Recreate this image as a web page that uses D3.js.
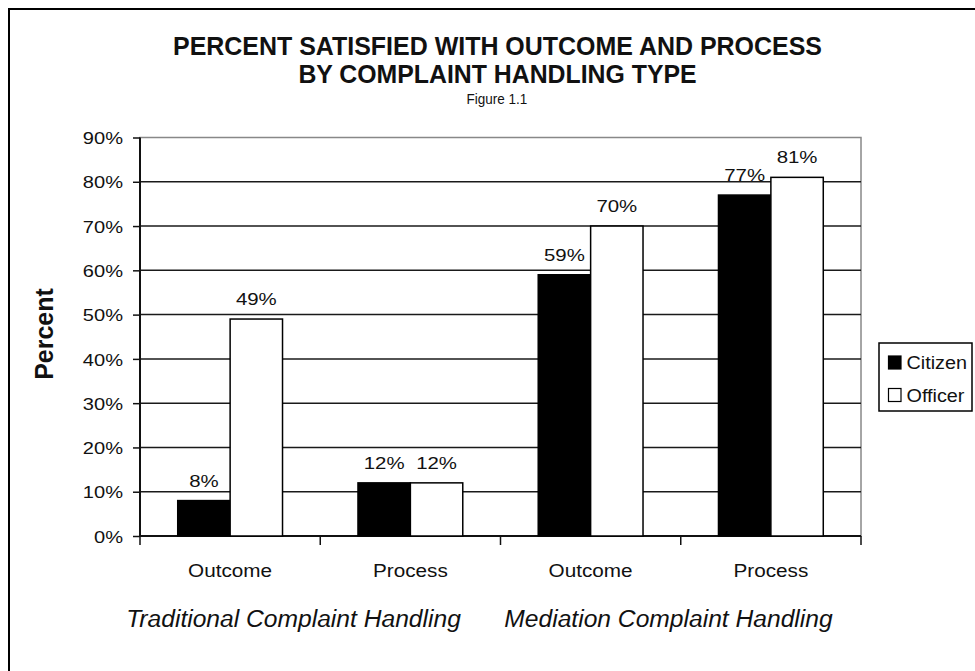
<!DOCTYPE html>
<html><head><meta charset="utf-8">
<script src="https://cdn.jsdelivr.net/npm/d3@7"></script>
<style>body{margin:0;background:#fff}svg{display:block}</style>
</head><body>
<script>
const categories = ["Outcome","Process","Outcome","Process"];
const seriesNames = ["Citizen","Officer"];
const citizen = [8,12,59,77];
const officer = [49,12,70,81];
const yTicks = [0,10,20,30,40,50,60,70,80,90];
const groupLabels = ["Traditional Complaint Handling","Mediation Complaint Handling"];

const W=975,H=671;
const svg=d3.select("body").append("svg").attr("width",W).attr("height",H);
svg.append("rect").attr("width",W).attr("height",H).attr("fill","#fff");
svg.append("rect").attr("x",9).attr("y",9).attr("width",1000).attr("height",700)
  .attr("fill","none").attr("stroke","#000").attr("stroke-width",2);

// horizontally stretch/compress text to mimic the original typeface widths
function stretch(sel,k){
  sel.each(function(){const n=this.getComputedTextLength();
    d3.select(this).attr("textLength",n*k).attr("lengthAdjust","spacingAndGlyphs");});
}

const L=140,R=861,T=137.5,B=536;
const x=d3.scaleBand().domain(d3.range(categories.length)).range([L,R]);
const xs=d3.scaleBand().domain(seriesNames).range([0,x.bandwidth()]).paddingOuter(0.72);
const y=d3.scaleLinear().domain([0,90]).range([B,T]);

const sans='"Liberation Sans",Arial,sans-serif';
const ink="#111";

// titles
const t1=svg.append("text").attr("x",497.5).attr("y",55).attr("text-anchor","middle").attr("font-family",sans)
  .attr("font-weight","bold").attr("font-size",26).attr("fill",ink).text("PERCENT SATISFIED WITH OUTCOME AND PROCESS");
stretch(t1,0.96);
const t2=svg.append("text").attr("x",497.5).attr("y",83).attr("text-anchor","middle").attr("font-family",sans)
  .attr("font-weight","bold").attr("font-size",26).attr("fill",ink).text("BY COMPLAINT HANDLING TYPE");
stretch(t2,0.955);
const t3=svg.append("text").attr("x",497).attr("y",104).attr("text-anchor","middle").attr("font-family",sans)
  .attr("font-size",15).attr("fill",ink).text("Figure 1.1");
stretch(t3,0.9);

// plot border
svg.append("rect").attr("x",L).attr("y",T).attr("width",R-L).attr("height",B-T)
  .attr("fill","none").attr("stroke","#888").attr("stroke-width",1.5);
// gridlines
svg.append("g").selectAll("line").data(yTicks.filter(d=>d>0&&d<90)).join("line")
  .attr("x1",L).attr("x2",R).attr("y1",d=>y(d)).attr("y2",d=>y(d))
  .attr("stroke","#1a1a1a").attr("stroke-width",1.5);

// y axis
const yAxis=d3.axisLeft(y).tickValues(yTicks).tickFormat(d=>d+"%").tickSize(7).tickPadding(10);
const gy=svg.append("g").attr("transform",`translate(${L},0)`).call(yAxis);
gy.select(".domain").attr("stroke","#111").attr("stroke-width",2).attr("d",`M0,${T}V${B}`);
gy.selectAll(".tick line").attr("stroke","#111").attr("stroke-width",1.5);
gy.selectAll(".tick text").attr("font-family",sans).attr("font-size",17).attr("fill",ink).attr("dy","0.36em");
stretch(gy.selectAll(".tick text"),1.18);

// x axis
const gx=svg.append("g").attr("transform",`translate(0,${B})`);
gx.append("line").attr("x1",L).attr("x2",R).attr("stroke","#111").attr("stroke-width",2);
gx.selectAll("line.t").data(d3.range(categories.length+1)).join("line").attr("class","t")
  .attr("x1",i=>i<categories.length?x(i):R).attr("x2",i=>i<categories.length?x(i):R)
  .attr("y1",0).attr("y2",9).attr("stroke","#111").attr("stroke-width",1.5);
const xl=gx.selectAll("text").data(categories).join("text")
  .attr("x",(d,i)=>x(i)+x.bandwidth()/2).attr("y",41).attr("text-anchor","middle")
  .attr("font-family",sans).attr("font-size",18).attr("fill",ink).text(d=>d);
stretch(xl,1.15);

// bars
const data=categories.map((c,i)=>({i,vals:[{s:"Citizen",v:citizen[i]},{s:"Officer",v:officer[i]}]}));
const g=svg.append("g").selectAll("g").data(data).join("g").attr("transform",d=>`translate(${x(d.i)},0)`);
g.selectAll("rect").data(d=>d.vals).join("rect")
  .attr("x",d=>xs(d.s)).attr("width",xs.bandwidth())
  .attr("y",d=>y(d.v)).attr("height",d=>B-y(d.v))
  .attr("fill",d=>d.s==="Citizen"?"#000":"#fff").attr("stroke","#000").attr("stroke-width",1.5);
const dl=g.selectAll("text").data(d=>d.vals).join("text")
  .attr("x",d=>xs(d.s)+xs.bandwidth()/2).attr("y",d=>y(d.v)-14)
  .attr("text-anchor","middle").attr("font-family",sans).attr("font-size",17).attr("fill",ink)
  .text(d=>d.v+"%");
stretch(dl,1.2);

// y title
svg.append("text").attr("transform","translate(53,334) rotate(-90)").attr("text-anchor","middle")
  .attr("font-family",sans).attr("font-weight","bold").attr("font-size",25).attr("fill",ink).text("Percent");

// group labels
const gl=svg.selectAll("text.grp").data(groupLabels).join("text").attr("class","grp")
  .attr("x",(d,i)=>[293.5,668.5][i]).attr("y",627).attr("text-anchor","middle")
  .attr("font-family",sans).attr("font-style","italic").attr("font-size",23).attr("fill",ink).text(d=>d);
stretch(gl,1.07);

// legend
const lg=svg.append("g");
lg.append("rect").attr("x",879).attr("y",343).attr("width",93).attr("height",68)
  .attr("fill","#fff").attr("stroke","#000").attr("stroke-width",1.5);
const li=lg.selectAll("g").data(seriesNames).join("g").attr("transform",(d,i)=>`translate(888.5,${356+i*32.5})`);
li.append("rect").attr("width",12.5).attr("height",13).attr("fill",d=>d==="Citizen"?"#000":"#fff").attr("stroke","#000").attr("stroke-width",1.2);
const lt=li.append("text").attr("x",18).attr("y",13).attr("font-family",sans).attr("font-size",18).attr("fill",ink).text(d=>d);
stretch(lt,1.1);
</script>
</body></html>
